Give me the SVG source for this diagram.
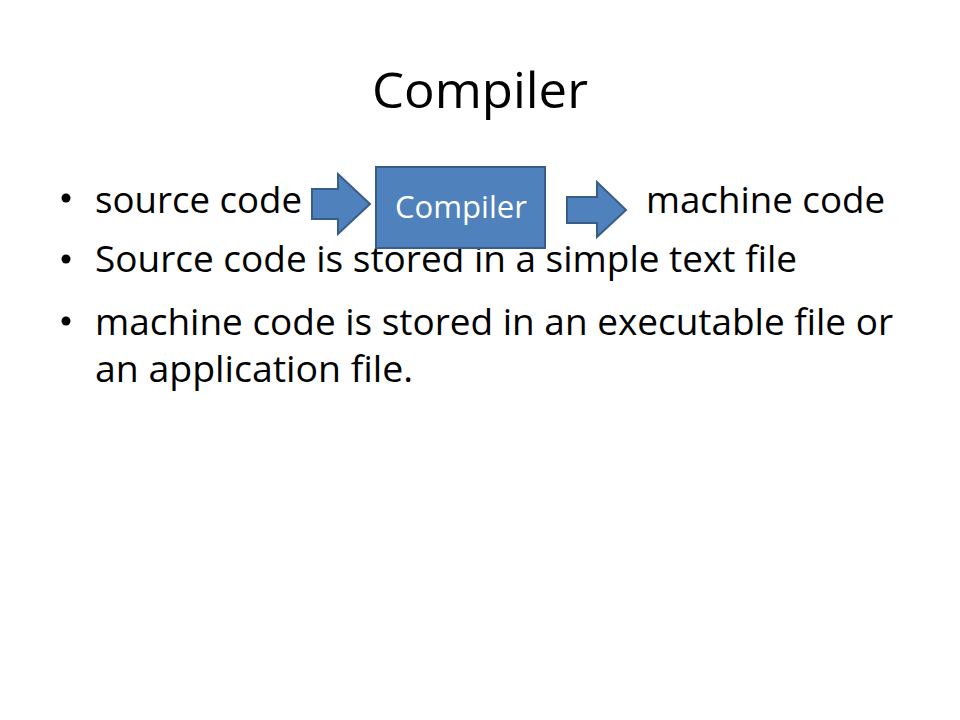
<svg xmlns="http://www.w3.org/2000/svg" width="960" height="720" viewBox="0 0 960 720">
<style>
.t{font-family:"Open Sans","Liberation Sans",sans-serif;fill:#000}
.b{font-size:36px}
.shape{fill:#4F81BD;stroke:#385D8A;stroke-width:2}
</style>
<rect width="960" height="720" fill="#fff"/>
<g id="title"><text class="t" x="372" y="108" font-size="50" textLength="216" lengthAdjust="spacingAndGlyphs">Compiler</text></g>
<g id="bullets">
<circle cx="66" cy="198" r="4.5"/>
<circle cx="66" cy="259" r="4.5"/>
<circle cx="66" cy="321" r="4.5"/>
<text class="t b" x="95" y="213" textLength="207" lengthAdjust="spacingAndGlyphs">source code</text>
<text class="t b" x="646" y="213" textLength="239" lengthAdjust="spacingAndGlyphs">machine code</text>
<text class="t b" x="95" y="272" textLength="702" lengthAdjust="spacingAndGlyphs">Source code is stored in a simple text file</text>
<text class="t b" x="95" y="335" textLength="798" lengthAdjust="spacingAndGlyphs">machine code is stored in an executable file or</text>
<text class="t b" x="95" y="382" textLength="318" lengthAdjust="spacingAndGlyphs">an application file.</text>
</g>
<g id="connectors">
<path class="shape" d="M312,189 H338 V174 L370,204 L338,234 V219 H312 Z"/>
<path class="shape" d="M567,197 H597 V182 L626,210 L597,237 V223 H567 Z"/>
</g>
<g id="compiler-node">
<rect class="shape" x="376" y="167" width="169" height="81"/>
<text class="t" x="395" y="218" font-size="31" fill="#fff" style="fill:#fff" textLength="132" lengthAdjust="spacingAndGlyphs">Compiler</text>
</g>
</svg>
